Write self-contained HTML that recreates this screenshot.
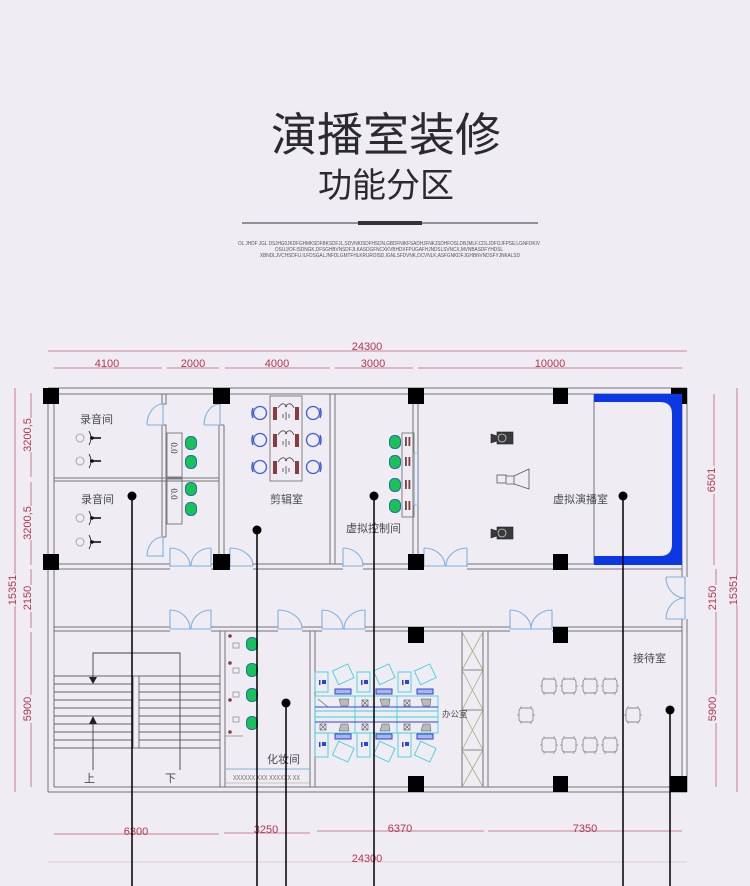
<!DOCTYPE html>
<html><head><meta charset="utf-8">
<style>
html,body{margin:0;padding:0;background:#efedf3;}
svg{display:block}
</style></head><body>
<svg width="750" height="886" viewBox="0 0 750 886" xmlns="http://www.w3.org/2000/svg">
<defs>
<g id="rc">
<rect x="-7" y="-7" width="14" height="14" rx="3" fill="none" stroke="#8c8c8c" stroke-width="0.9"/>
<path d="M-5,-7 v-2 M5,-7 v-2 M-5,7 v2 M5,7 v2 M-7,0 h-2 M7,0 h2" stroke="#8c8c8c" stroke-width="0.8"/>
</g>
<g id="gc">
<rect x="-5.5" y="-6.5" width="11" height="13" rx="5" fill="#17c257" stroke="#2d6aa8" stroke-width="1"/>
</g>
<g id="bch">
<circle cx="0" cy="0" r="6.5" fill="none" stroke="#3b5be0" stroke-width="1.3"/>
</g>
<g id="mic">
<circle cx="-12" cy="0" r="4" fill="none" stroke="#999" stroke-width="0.8"/>
<path d="M-3,-7 Q1,0 -3,7" fill="none" stroke="#222" stroke-width="0.8"/>
<path d="M-2,0 H9" stroke="#111" stroke-width="1.6"/>
<circle cx="0" cy="0" r="1.8" fill="#111"/>
</g>
</defs>
<rect width="750" height="886" fill="#efedf3"/>

<!-- Title -->
<text x="386" y="151" font-family="'Liberation Sans','Noto Sans CJK SC',sans-serif" font-size="46" text-anchor="middle" fill="#2b2b2e">演播室装修</text>
<text x="386" y="197" font-family="'Liberation Sans','Noto Sans CJK SC',sans-serif" font-size="34" text-anchor="middle" fill="#2b2b2e">功能分区</text>
<line x1="242" y1="223" x2="538" y2="223" stroke="#333" stroke-width="1"/>
<rect x="358" y="221" width="64" height="4" fill="#333"/>
<g font-family="'Liberation Sans',sans-serif" font-size="5" fill="#555">
<text x="238" y="245" textLength="302" lengthAdjust="spacingAndGlyphs">OL JHDF JGL DSJHG0JKDFGHMKSDFBKSDFJL,SDVNKISDFHSDN,GBDFNIKFSADHJFNKJSDHFOSLDBJMLF.CDLJDFOJFPSE;LGNFDKIV</text>
<text x="275" y="251" textLength="228" lengthAdjust="spacingAndGlyphs">OSUJ/OF.ISDNGK,DFSGHBVNSDFJLKASDGFNCXKVBHDXFPUGAFHJNDSLSVNCX,MVNBASDFYHDSL</text>
<text x="260" y="257" textLength="260" lengthAdjust="spacingAndGlyphs">XBNDLJVCHSDFU.ILFDSGALJNFDLGMTFHLKRUROISD,IGNLSFDVNK,DCVNLK,ASFGNKDFJGHBNVNDSFYJNKALSD</text>
</g>

<!-- Dimensions -->
<g stroke="#c25c70" stroke-width="0.8">
<line x1="48" y1="351" x2="687" y2="351"/>
<line x1="54" y1="368" x2="162" y2="368"/>
<line x1="167" y1="368" x2="219" y2="368"/>
<line x1="225" y1="368" x2="330" y2="368"/>
<line x1="335" y1="368" x2="413" y2="368"/>
<line x1="418" y1="368" x2="682" y2="368"/>
<line x1="54" y1="834" x2="219" y2="834"/>
<line x1="224" y1="833" x2="310" y2="833"/>
<line x1="317" y1="831" x2="484" y2="831"/>
<line x1="488" y1="831" x2="682" y2="831"/>
<line x1="15" y1="388" x2="15" y2="574"/>
<line x1="15" y1="606" x2="15" y2="792"/>
<line x1="31" y1="393" x2="31" y2="418"/>
<line x1="31" y1="452" x2="31" y2="477"/>
<line x1="31" y1="482" x2="31" y2="506"/>
<line x1="31" y1="540" x2="31" y2="565"/>
<line x1="31" y1="569" x2="31" y2="585"/>
<line x1="31" y1="612" x2="31" y2="628"/>
<line x1="31" y1="632" x2="31" y2="695"/>
<line x1="31" y1="723" x2="31" y2="787"/>
<line x1="737" y1="388" x2="737" y2="575"/>
<line x1="737" y1="605" x2="737" y2="792"/>
<line x1="714" y1="394" x2="714" y2="466"/>
<line x1="714" y1="494" x2="714" y2="565"/>
<line x1="716" y1="569" x2="716" y2="585"/>
<line x1="716" y1="612" x2="716" y2="695"/>
<line x1="716" y1="723" x2="716" y2="787"/>
</g>
<line x1="48" y1="862" x2="687" y2="862" stroke="#e2c9d2" stroke-width="0.9"/>
<g font-family="'Liberation Sans',sans-serif" font-size="11" fill="#b8334f" text-anchor="middle">
<text x="367" y="350">24300</text>
<text x="107" y="367">4100</text>
<text x="193" y="367">2000</text>
<text x="277" y="367">4000</text>
<text x="373" y="367">3000</text>
<text x="550" y="367">10000</text>
<text x="136" y="835">6300</text>
<text x="266" y="833">3250</text>
<text x="400" y="832">6370</text>
<text x="585" y="832">7350</text>
<text x="367" y="862">24300</text>
<text transform="translate(16,590) rotate(-90)">15351</text>
<text transform="translate(31,435) rotate(-90)">3200,5</text>
<text transform="translate(31,523) rotate(-90)">3200,5</text>
<text transform="translate(31,598) rotate(-90)">2150</text>
<text transform="translate(31,709) rotate(-90)">5900</text>
<text transform="translate(737,590) rotate(-90)">15351</text>
<text transform="translate(715,480) rotate(-90)">6501</text>
<text transform="translate(716,598) rotate(-90)">2150</text>
<text transform="translate(716,709) rotate(-90)">5900</text>
</g>

<!-- Walls -->
<g stroke="#747474" stroke-width="1" fill="none">
<!-- outer -->
<line x1="48" y1="388" x2="687" y2="388"/>
<line x1="54" y1="394" x2="682" y2="394"/>
<line x1="48" y1="388" x2="48" y2="792"/>
<line x1="54" y1="394" x2="54" y2="787"/>
<line x1="48" y1="792" x2="687" y2="792"/>
<line x1="54" y1="787" x2="682" y2="787"/>
<line x1="687" y1="388" x2="687" y2="577"/>
<line x1="682" y1="394" x2="682" y2="577"/>
<line x1="687" y1="619" x2="687" y2="792"/>
<line x1="682" y1="619" x2="682" y2="787"/>
<!-- top section bottom wall -->
<path d="M54,564H170 M54,569H170 M211,564H230 M211,569H230 M253,564H343 M253,569H343 M363,564H424 M363,569H424 M467,564H682 M467,569H682"/>
<!-- corridor bottom wall -->
<path d="M54,627H170 M54,631H170 M211,627H278 M211,631H278 M302,627H322 M302,631H322 M365,627H510 M365,631H510 M552,627H682 M552,631H682"/>
<!-- interior top -->
<path d="M162,394V404H166V394 M162,537V425H166V537 M162,537H166"/>
<path d="M54,478H219 M54,481H219"/>
<path d="M219,425V554 M224,425V554 M219,425H224"/>
<path d="M330,394V564 M335,394V564"/>
<path d="M413,404V554 M418,404V554"/>
<line x1="594" y1="394" x2="594" y2="564"/>
<!-- interior bottom -->
<path d="M220,631V787 M225,631V787"/>
<path d="M310,631V787 M315,631V787"/>
<path d="M462,631V787 M483,631V787 M488,631V787"/>
</g>
<!-- X brace -->
<g stroke="#a7ad78" stroke-width="0.8" fill="none">
<path d="M462,670H483 M462,710H483 M462,750H483"/>
<path d="M462,632L483,670 M483,632L462,670 M462,670L483,710 M483,670L462,710 M462,710L483,750 M483,710L462,750 M462,750L483,787 M483,750L462,787"/>
</g>
<path d="M462,670H483 M462,710H483 M462,750H483" stroke="#777" stroke-width="0.8"/>

<!-- Stairs -->
<g stroke="#666" stroke-width="0.9" fill="none">
<path d="M54,676H133 M54,684H133 M54,692H133 M54,700H133 M54,708H133 M54,716H133 M54,724H133 M54,732H133 M54,740H133 M54,748H133"/>
<path d="M139,676H220 M139,684H220 M139,692H220 M139,700H220 M139,708H220 M139,716H220 M139,724H220 M139,732H220 M139,740H220 M139,748H220"/>
<rect x="133" y="676" width="6" height="72"/>
<path d="M93,677V653H180V770" stroke="#444"/>
<path d="M93,770V721" stroke="#444"/>
</g>
<path d="M89,677L97,677L93,684Z" fill="#222"/>
<path d="M89,724L97,724L93,716Z" fill="#222"/>

<!-- Doors -->
<g stroke="#7fb2e2" stroke-width="1.1" fill="none">
<path d="M147,425A16,21 0 0 1 163,404 M163,404V425 M147,425H163"/>
<path d="M204,425A16,21 0 0 1 220,404 M220,404V425 M204,425H220"/>
<path d="M147,556A16,19 0 0 1 163,537 M163,537V557 M147,556H163"/>
<path d="M170,548A20,18 0 0 1 190,566 M211,548A20,18 0 0 0 191,566 M170,548V567 M211,548V567 M170,566H211"/>
<path d="M230,548A23,18 0 0 1 253,566 M230,548V567 M230,566H253"/>
<path d="M343,548A20,18 0 0 1 363,566 M343,548V567 M343,566H363"/>
<path d="M424,548A21,18 0 0 1 445,566 M467,548A21,18 0 0 0 446,566 M424,548V567 M467,548V567 M424,566H467"/>
<path d="M170,610A20,19 0 0 1 190,629 M211,610A20,19 0 0 0 191,629 M170,610V629 M211,610V629 M170,629H211"/>
<path d="M278,610A24,19 0 0 1 302,629 M278,610V629 M278,629H302"/>
<path d="M322,610A21,19 0 0 1 343,629 M365,610A21,19 0 0 0 344,629 M322,610V629 M365,610V629 M322,629H365"/>
<path d="M510,610A21,19 0 0 1 531,629 M552,610A21,19 0 0 0 531,629 M510,610V629 M552,610V629 M510,629H552"/>
<path d="M666,577A19,21 0 0 0 685,598 M666,619A19,21 0 0 1 685,598 M666,577H685 M666,619H685 M685,577V619"/>
</g>
<!-- window -->
<rect x="413.5" y="453" width="4" height="52" fill="none" stroke="#9cc4ec" stroke-width="1"/>

<!-- Columns -->
<g fill="#000">
<rect x="43" y="388" width="16" height="16"/>
<rect x="213" y="388" width="17" height="16"/>
<rect x="408" y="388" width="16" height="16"/>
<rect x="553" y="388" width="15" height="16"/>
<rect x="671" y="388" width="16" height="16"/>
<rect x="43" y="554" width="16" height="16"/>
<rect x="213" y="554" width="17" height="16"/>
<rect x="408" y="554" width="16" height="16"/>
<rect x="553" y="554" width="15" height="16"/>
<rect x="408" y="627" width="16" height="16"/>
<rect x="553" y="627" width="15" height="16"/>
<rect x="408" y="776" width="16" height="16"/>
<rect x="553" y="776" width="15" height="16"/>
<rect x="670" y="776" width="17" height="16"/>
</g>

<!-- Blue U backdrop -->
<path d="M594,394H682V565H594V556H660Q672,556 672,544V414Q672,402 660,402H594Z" fill="#0b37e4"/>

<!-- Recording rooms -->
<use href="#mic" x="92" y="438"/>
<use href="#mic" x="92" y="461"/>
<use href="#mic" x="92" y="518"/>
<use href="#mic" x="92" y="542"/>
<g stroke="#666" stroke-width="0.8" fill="none">
<rect x="167" y="433" width="15" height="44"/>
<rect x="167" y="479" width="15" height="45"/>
</g>
<g font-family="'Liberation Serif',serif" font-size="9" fill="#222">
<text transform="translate(171,448) rotate(90)" text-anchor="middle">0.0</text>
<text transform="translate(171,494) rotate(90)" text-anchor="middle">0.0</text>
</g>
<use href="#gc" x="191" y="443"/>
<use href="#gc" x="191" y="462"/>
<use href="#gc" x="191" y="489"/>
<use href="#gc" x="191" y="509"/>

<!-- Edit room -->
<rect x="270" y="396" width="32" height="85" fill="none" stroke="#777" stroke-width="0.9"/>
<g fill="#8b3a3e">
<rect x="273" y="407" width="4" height="13"/><rect x="295" y="407" width="4" height="13"/>
<rect x="273" y="434" width="4" height="13"/><rect x="295" y="434" width="4" height="13"/>
<rect x="273" y="461" width="4" height="13"/><rect x="295" y="461" width="4" height="13"/>
</g>
<g stroke="#333" stroke-width="0.7" fill="none">
<path d="M278,408Q283,400 287,407 M285,407Q290,400 294,408 M286,412V420 M283,414V418 M289,414V418"/>
<path d="M278,435Q283,427 287,434 M285,434Q290,427 294,435 M286,439V447 M283,441V445 M289,441V445"/>
<path d="M278,462Q283,454 287,461 M285,461Q290,454 294,462 M286,466V474 M283,468V472 M289,468V472"/>
</g>
<use href="#bch" x="260" y="413"/><use href="#bch" x="260" y="440"/><use href="#bch" x="260" y="467"/>
<use href="#bch" x="313" y="413"/><use href="#bch" x="313" y="440"/><use href="#bch" x="313" y="467"/>
<g stroke="#3b5be0" stroke-width="1.5" fill="none">
<path d="M253,408Q251,413 253,418 M253,435Q251,440 253,445 M253,462Q251,467 253,472"/>
<path d="M320,408Q322,413 320,418 M320,435Q322,440 320,445 M320,462Q322,467 320,472"/>
</g>

<!-- Control room -->
<rect x="402" y="433" width="12" height="84" fill="none" stroke="#777" stroke-width="0.9"/>
<g fill="#7a3a3a">
<rect x="405" y="437" width="1.8" height="9"/><rect x="408.5" y="437" width="1.8" height="9"/>
<rect x="405" y="457" width="1.8" height="9"/><rect x="408.5" y="457" width="1.8" height="9"/>
<rect x="405" y="480" width="1.8" height="9"/><rect x="408.5" y="480" width="1.8" height="9"/>
<rect x="405" y="501" width="1.8" height="9"/><rect x="408.5" y="501" width="1.8" height="9"/>
</g>
<use href="#gc" x="395" y="442"/>
<use href="#gc" x="395" y="462"/>
<use href="#gc" x="395" y="485"/>
<use href="#gc" x="395" y="506"/>

<!-- Virtual studio equipment -->
<g fill="#3a3a3a" stroke="#222" stroke-width="0.6">
<path d="M491,434L497,436V441L491,443Z"/>
<rect x="497" y="432" width="16" height="12"/>
<path d="M491,529L497,531V536L491,538Z"/>
<rect x="497" y="527" width="16" height="12"/>
</g>
<g fill="none" stroke="#555" stroke-width="0.8">
<circle cx="502" cy="438" r="4" stroke="#ccc"/>
<circle cx="502" cy="533" r="4" stroke="#ccc"/>
<rect x="497" y="475" width="9" height="8"/>
<path d="M506,476H514V484H506 M514,476L529,469V489L514,484"/>
</g>

<!-- Makeup room -->
<g fill="none" stroke="#888" stroke-width="0.7">
<rect x="233" y="643" width="6" height="5"/>
<rect x="233" y="668" width="6" height="5"/>
<rect x="233" y="692" width="6" height="5"/>
<rect x="233" y="717" width="6" height="5"/>
<path d="M225,736H243"/>
</g>
<g fill="#8a3a3a">
<circle cx="230" cy="636" r="1.8"/><circle cx="230" cy="663" r="1.8"/><circle cx="230" cy="700" r="1.8"/><circle cx="230" cy="732" r="1.8"/>
</g>
<use href="#gc" x="252" y="644"/>
<use href="#gc" x="252" y="670"/>
<use href="#gc" x="252" y="695"/>
<use href="#gc" x="252" y="723"/>
<line x1="225" y1="769" x2="310" y2="769" stroke="#7fb2e2" stroke-width="1"/>
<line x1="225" y1="783" x2="310" y2="783" stroke="#999" stroke-width="0.6"/>
<text x="233" y="780" font-family="'Liberation Sans',sans-serif" font-size="7" fill="#7a6a6a" textLength="67" lengthAdjust="spacingAndGlyphs">XXXXXX XXX XXXXXX XX</text>

<!-- Office cluster -->
<g fill="none" stroke="#3fd1dd" stroke-width="0.9">
<rect x="315" y="672" width="13" height="20"/>
<rect x="357" y="672" width="13" height="20"/>
<rect x="398" y="672" width="13" height="20"/>
<rect x="315" y="733" width="13" height="24"/>
<rect x="357" y="733" width="13" height="24"/>
<rect x="398" y="733" width="13" height="24"/>
<rect x="315" y="696" width="123" height="37"/>
<path d="M355,696V733 M397,696V733 M315,711H438 M315,717H438"/>
<rect x="335" y="667" width="17" height="15" transform="rotate(-25 343 675)"/>
<rect x="376" y="667" width="17" height="15" transform="rotate(-25 384 675)"/>
<rect x="417" y="667" width="17" height="15" transform="rotate(-25 425 675)"/>
<rect x="335" y="744" width="17" height="15" transform="rotate(25 343 751)"/>
<rect x="376" y="744" width="17" height="15" transform="rotate(25 384 751)"/>
<rect x="417" y="744" width="17" height="15" transform="rotate(25 425 751)"/>
</g>
<g stroke="#2c45d0" stroke-width="1" fill="#aab4ee">
<rect x="335" y="689" width="16" height="5"/>
<rect x="376" y="689" width="16" height="5"/>
<rect x="417" y="689" width="16" height="5"/>
<rect x="335" y="734" width="16" height="5"/>
<rect x="376" y="734" width="16" height="5"/>
<rect x="417" y="734" width="16" height="5"/>
</g>
<path d="M315,707H438 M315,722H438" stroke="#2c45d0" stroke-width="1"/>
<g fill="#2c45d0">
<rect x="319" y="680" width="1.5" height="5"/><rect x="322" y="680" width="4" height="4"/>
<rect x="361" y="680" width="1.5" height="5"/><rect x="364" y="680" width="4" height="4"/>
<rect x="402" y="680" width="1.5" height="5"/><rect x="405" y="680" width="4" height="4"/>
<rect x="319" y="742" width="1.5" height="5"/><rect x="322" y="742" width="4" height="4"/>
<rect x="361" y="742" width="1.5" height="5"/><rect x="364" y="742" width="4" height="4"/>
<rect x="402" y="742" width="1.5" height="5"/><rect x="405" y="742" width="4" height="4"/>
</g>
<g fill="#bbb" stroke="#555" stroke-width="0.5">
<path d="M339,699H349L348,706H341Z"/><path d="M380,699H390L389,706H382Z"/><path d="M421,699H431L430,706H423Z"/>
<path d="M341,724H348L349,731H339Z"/><path d="M382,724H389L390,731H380Z"/><path d="M423,724H430L431,731H421Z"/>
</g>
<g fill="none" stroke="#555" stroke-width="0.6">
<rect x="362" y="700" width="6" height="6"/><path d="M362,700L368,706M368,700L362,706"/>
<rect x="404" y="700" width="6" height="6"/><path d="M404,700L410,706M410,700L404,706"/>
<rect x="320" y="724" width="6" height="6"/><path d="M320,724L326,730M326,724L320,730"/>
<rect x="362" y="724" width="6" height="6"/><path d="M362,724L368,730M368,724L362,730"/>
<rect x="404" y="724" width="6" height="6"/><path d="M404,724L410,730M410,724L404,730"/>
<path d="M318,699L328,707"/>
</g>

<!-- Reception chairs -->
<use href="#rc" x="549" y="686"/><use href="#rc" x="569" y="686"/><use href="#rc" x="590" y="686"/><use href="#rc" x="610" y="686"/>
<use href="#rc" x="549" y="745"/><use href="#rc" x="569" y="745"/><use href="#rc" x="590" y="745"/><use href="#rc" x="610" y="745"/>
<use href="#rc" x="526" y="715"/><use href="#rc" x="633" y="715"/>

<!-- Labels -->
<g font-family="'Liberation Sans','Noto Sans CJK SC',sans-serif" font-size="11" fill="#4a4a4a">
<text x="80" y="423">录音间</text>
<text x="81" y="503">录音间</text>
<text x="270" y="503">剪辑室</text>
<text x="346" y="532">虚拟控制间</text>
<text x="553" y="503">虚拟演播室</text>
<text x="267" y="763">化妆间</text>
<text x="633" y="662">接待室</text>
<text x="84" y="782">上</text>
<text x="165" y="782">下</text>
<text x="442" y="717" font-size="8.5">办公室</text>
</g>

<!-- Pointer lines -->
<g stroke="#000" stroke-width="1.5">
<line x1="132" y1="496" x2="132" y2="886"/>
<line x1="257" y1="530" x2="257" y2="886"/>
<line x1="374" y1="496" x2="374" y2="886"/>
<line x1="623" y1="496" x2="623" y2="886"/>
<line x1="286" y1="703" x2="286" y2="886"/>
<line x1="670" y1="710" x2="670" y2="886"/>
</g>
<g fill="#000">
<circle cx="132" cy="496" r="4.5"/>
<circle cx="257" cy="530" r="4.5"/>
<circle cx="374" cy="496" r="4.5"/>
<circle cx="623" cy="496" r="4.5"/>
<circle cx="286" cy="703" r="4.5"/>
<circle cx="670" cy="710" r="4.5"/>
</g>
</svg>
</body></html>
